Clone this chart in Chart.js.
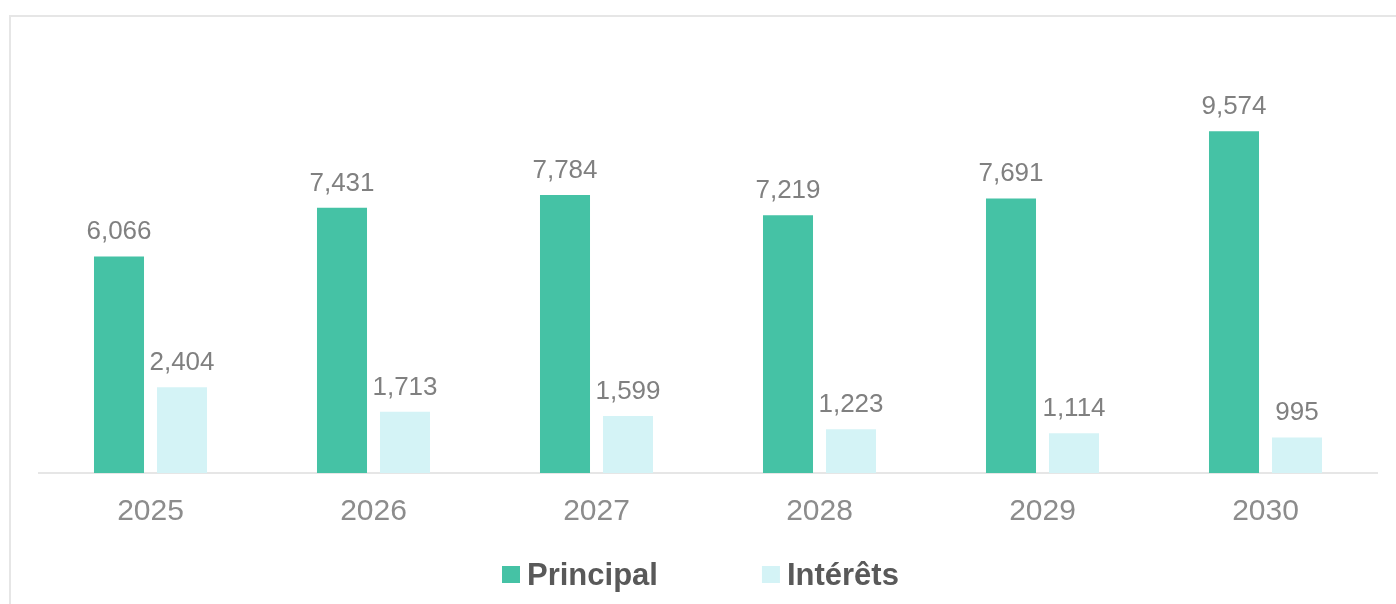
<!DOCTYPE html>
<html>
<head>
<meta charset="utf-8">
<script src="https://cdn.jsdelivr.net/npm/chart.js@4/dist/chart.umd.min.js"></script>
<style>
  html, body { margin: 0; padding: 0; background: #fff; overflow: hidden; }
  #wrap { position: relative; width: 1396px; height: 604px; }
  #frame { position: absolute; left: 9px; top: 15px; width: 2000px; height: 2000px;
           border: 2px solid #e6e6e6; pointer-events: none; }
</style>
</head>
<body>
<div id="wrap">
  <canvas id="chart" width="1396" height="604"></canvas>
  <div id="frame"></div>
</div>
<script>
const years = ['2025', '2026', '2027', '2028', '2029', '2030'];
const principal = [6066, 7431, 7784, 7219, 7691, 9574];
const interets = [2404, 1713, 1599, 1223, 1114, 995];
const seriesNames = ['Principal', 'Intérêts'];
const seriesColors = ['#45c2a5', '#d4f3f6'];

const fontFamily = '"Liberation Sans", Arial, sans-serif';

// value labels above each bar
const valueLabels = {
  id: 'valueLabels',
  afterDatasetsDraw(chart) {
    const ctx = chart.ctx;
    ctx.save();
    ctx.font = '26px ' + fontFamily;
    ctx.fillStyle = '#808080';
    ctx.textAlign = 'center';
    ctx.textBaseline = 'alphabetic';
    chart.data.datasets.forEach((ds, i) => {
      chart.getDatasetMeta(i).data.forEach((bar, j) => {
        ctx.fillText(ds.data[j].toLocaleString('en-US'), bar.x, bar.y - 17);
      });
    });
    ctx.restore();
  }
};

// legend drawn by hand so the spacing matches the original
const bottomLegend = {
  id: 'bottomLegend',
  afterDraw(chart) {
    const ctx = chart.ctx;
    const area = chart.chartArea;
    ctx.save();
    ctx.font = 'bold 31px ' + fontFamily;
    ctx.textBaseline = 'alphabetic';
    let x = area.left + 463;
    const baseY = area.bottom + 112;
    chart.data.datasets.forEach((ds, i) => {
      ctx.fillStyle = ds.backgroundColor;
      ctx.fillRect(x, area.bottom + 93, 18, 17);
      ctx.fillStyle = '#595959';
      ctx.fillText(ds.label, x + 25, baseY);
      x += 25 + ctx.measureText(ds.label).width + 104;
    });
    ctx.restore();
  }
};

new Chart(document.getElementById('chart'), {
  type: 'bar',
  data: {
    labels: years,
    datasets: [
      { label: seriesNames[0], data: principal, backgroundColor: seriesColors[0] },
      { label: seriesNames[1], data: interets, backgroundColor: seriesColors[1] }
    ]
  },
  options: {
    responsive: false,
    animation: false,
    layout: { padding: { left: 39, right: 19, top: 116, bottom: 53 } },
    categoryPercentage: 0.565,
    barPercentage: 0.794,
    scales: {
      x: {
        grid: { drawOnChartArea: false, drawTicks: false },
        border: { color: '#e6e6e6', width: 2 },
        ticks: { color: '#8c8c8c', padding: 21, font: { family: fontFamily, size: 30 } }
      },
      y: { display: false, min: 0, max: 10000 }
    },
    plugins: {
      legend: { display: false },
      tooltip: { enabled: false }
    }
  },
  plugins: [valueLabels, bottomLegend]
});
</script>
</body>
</html>
